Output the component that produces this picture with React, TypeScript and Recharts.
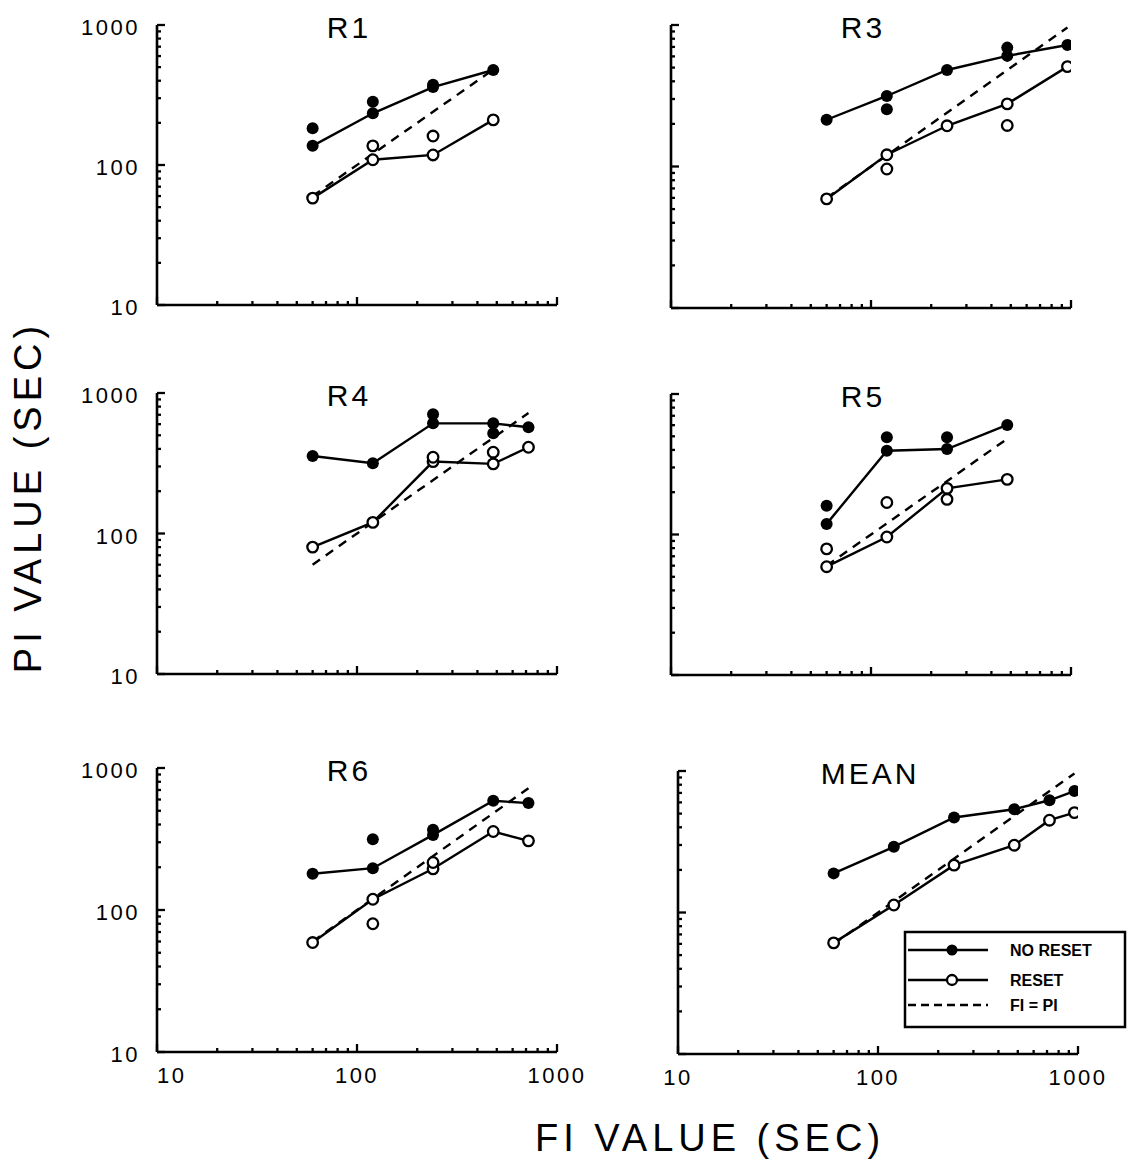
import React from 'react';
import { ScatterChart, Scatter, XAxis, YAxis } from 'recharts';

const FONT = '"Liberation Sans", Arial, sans-serif';

// log axis ticks
const logTicks = [10, 20, 30, 40, 50, 60, 70, 80, 90, 100, 200, 300, 400, 500, 600, 700, 800, 900, 1000];
const majorTicks = [10, 100, 1000];

// ---- R1 ----
const r1Fi = [60, 120, 240, 480];
const r1NoReset = [137, 234, 360, 477];
const r1NoResetExtraFi = [60, 120, 240];
const r1NoResetExtra = [183, 283, 375];
const r1Reset = [58, 109, 118, 210];
const r1ResetExtraFi = [120, 240];
const r1ResetExtra = [137, 161];
const r1Diag = [60, 480];

// ---- R3 ----
const r3Fi = [60, 120, 240, 480, 960];
const r3NoReset = [214, 315, 481, 605, 722];
const r3NoResetExtraFi = [120, 480];
const r3NoResetExtra = [254, 692];
const r3Reset = [59, 121, 194, 277, 508];
const r3ResetExtraFi = [120, 480];
const r3ResetExtra = [96, 195];
const r3Diag = [60, 960];

// ---- R4 ----
const r4Fi = [60, 120, 240, 480, 720];
const r4NoReset = [356, 316, 608, 608, 570];
const r4NoResetExtraFi = [240, 480];
const r4NoResetExtra = [705, 517];
const r4Reset = [80, 120, 325, 313, 411];
const r4ResetExtraFi = [240, 480];
const r4ResetExtra = [349, 379];
const r4Diag = [60, 720];

// ---- R5 ----
const r5Fi = [60, 120, 240, 480];
const r5NoReset = [119, 395, 406, 602];
const r5NoResetExtraFi = [60, 120, 240];
const r5NoResetExtra = [160, 492, 492];
const r5Reset = [59, 96, 213, 247];
const r5ResetExtraFi = [60, 120, 240];
const r5ResetExtra = [79, 169, 178];
const r5Diag = [60, 480];

// ---- R6 ----
const r6Fi = [60, 120, 240, 480, 720];
const r6NoReset = [180, 197, 338, 588, 566];
const r6NoResetExtraFi = [120, 240];
const r6NoResetExtra = [315, 367];
const r6Reset = [59, 119, 195, 357, 307];
const r6ResetExtraFi = [120, 240];
const r6ResetExtra = [80, 216];
const r6Diag = [60, 720];

// ---- MEAN ----
const meanFi = [60, 120, 240, 480, 720, 960];
const meanNoReset = [189, 291, 469, 537, 621, 722];
const meanReset = [61, 113, 216, 299, 449, 508];
const meanDiag = [60, 960];

const legendLabels = ['NO RESET', 'RESET', 'FI = PI'];
const xAxisTitle = 'FI VALUE (SEC)';
const yAxisTitle = 'PI VALUE (SEC)';

const pts = (xs: number[], ys: number[]) => xs.map((x, i) => ({ x, y: ys[i] }));

const FilledDot = (p: any) => <circle cx={p.cx} cy={p.cy} r={6} fill="#000" />;
const OpenDot = (p: any) => (
  <circle cx={p.cx} cy={p.cy} r={5.3} fill="#fff" stroke="#000" strokeWidth={2.3} />
);
const NoDot = () => <g />;

const renderYTick = (p: any, showLabel: boolean) => {
  const { x, y, payload } = p;
  const v = payload.value;
  const major = majorTicks.includes(v);
  return (
    <g>
      <line x1={x} x2={x + (major ? 8 : 4)} y1={y} y2={y} stroke="#000" strokeWidth={2.3} />
      {showLabel && major && (
        <text x={x - 17} y={y + 10} textAnchor="end" fontFamily={FONT} fontSize={22} letterSpacing={2.5} fill="#000">
          {v}
        </text>
      )}
    </g>
  );
};

const renderXTick = (p: any, showLabel: boolean, leftCol: boolean) => {
  const { x, y, payload } = p;
  const v = payload.value;
  const major = majorTicks.includes(v);
  const anchor = leftCol && v === 10 ? 'start' : 'middle';
  return (
    <g>
      <line x1={x} x2={x} y1={y} y2={y - (major ? 8 : 4)} stroke="#000" strokeWidth={2.3} />
      {showLabel && major && (
        <text x={x} y={y + 31} textAnchor={anchor} fontFamily={FONT} fontSize={22} letterSpacing={2.5} fill="#000">
          {v}
        </text>
      )}
    </g>
  );
};

type PanelProps = {
  left: number;
  top: number;
  height: number;
  fi: number[];
  noReset: number[];
  noResetExtraFi: number[];
  noResetExtra: number[];
  reset: number[];
  resetExtraFi: number[];
  resetExtra: number[];
  diag: number[];
  showYLabels: boolean;
  showXLabels: boolean;
  leftCol: boolean;
};

const ML = 110;
const MT = 30;
const MR = 70;
const XH = 45;
const PW = 400;

function Panel(props: PanelProps) {
  const { left, top, height } = props;
  const chartW = ML + PW + MR;
  const chartH = MT + height + XH;
  const lineStyle = { stroke: '#000', strokeWidth: 2.4 };
  return (
    <div style={{ position: 'absolute', left: left - ML, top: top - MT, width: chartW, height: chartH }}>
      <ScatterChart
        width={chartW}
        height={chartH}
        margin={{ top: MT, right: MR, bottom: 0, left: 0 }}
        style={{ overflow: 'visible' }}
      >
        <XAxis
          dataKey="x"
          type="number"
          scale="log"
          domain={[10, 1000]}
          ticks={logTicks}
          interval={0}
          allowDataOverflow
          tickSize={0}
          tickMargin={0}
          height={XH}
          axisLine={{ stroke: '#000', strokeWidth: 2.6 }}
          tickLine={false}
          tick={(p: any) => renderXTick(p, props.showXLabels, props.leftCol)}
        />
        <YAxis
          dataKey="y"
          type="number"
          scale="log"
          domain={[10, 1000]}
          ticks={logTicks}
          interval={0}
          allowDataOverflow
          tickSize={0}
          tickMargin={0}
          width={ML}
          axisLine={{ stroke: '#000', strokeWidth: 2.6 }}
          tickLine={false}
          tick={(p: any) => renderYTick(p, props.showYLabels)}
        />
        <Scatter
          data={pts(props.diag, props.diag)}
          line={{ stroke: '#000', strokeWidth: 2.4, strokeDasharray: '9 7' }}
          shape={NoDot}
          isAnimationActive={false}
        />
        <Scatter data={pts(props.fi, props.noReset)} line={lineStyle} shape={FilledDot} isAnimationActive={false} />
        <Scatter data={pts(props.noResetExtraFi, props.noResetExtra)} shape={FilledDot} isAnimationActive={false} />
        <Scatter data={pts(props.fi, props.reset)} line={lineStyle} shape={OpenDot} isAnimationActive={false} />
        <Scatter data={pts(props.resetExtraFi, props.resetExtra)} shape={OpenDot} isAnimationActive={false} />
      </ScatterChart>
    </div>
  );
}

const panels = [
  { title: 'R1', left: 157, top: 25, height: 280, fi: r1Fi, noReset: r1NoReset, noResetExtraFi: r1NoResetExtraFi, noResetExtra: r1NoResetExtra, reset: r1Reset, resetExtraFi: r1ResetExtraFi, resetExtra: r1ResetExtra, diag: r1Diag, showYLabels: true, showXLabels: false, leftCol: true },
  { title: 'R3', left: 671, top: 25, height: 283, fi: r3Fi, noReset: r3NoReset, noResetExtraFi: r3NoResetExtraFi, noResetExtra: r3NoResetExtra, reset: r3Reset, resetExtraFi: r3ResetExtraFi, resetExtra: r3ResetExtra, diag: r3Diag, showYLabels: false, showXLabels: false, leftCol: false },
  { title: 'R4', left: 157, top: 393, height: 281, fi: r4Fi, noReset: r4NoReset, noResetExtraFi: r4NoResetExtraFi, noResetExtra: r4NoResetExtra, reset: r4Reset, resetExtraFi: r4ResetExtraFi, resetExtra: r4ResetExtra, diag: r4Diag, showYLabels: true, showXLabels: false, leftCol: true },
  { title: 'R5', left: 671, top: 394, height: 281, fi: r5Fi, noReset: r5NoReset, noResetExtraFi: r5NoResetExtraFi, noResetExtra: r5NoResetExtra, reset: r5Reset, resetExtraFi: r5ResetExtraFi, resetExtra: r5ResetExtra, diag: r5Diag, showYLabels: false, showXLabels: false, leftCol: false },
  { title: 'R6', left: 157, top: 768, height: 284, fi: r6Fi, noReset: r6NoReset, noResetExtraFi: r6NoResetExtraFi, noResetExtra: r6NoResetExtra, reset: r6Reset, resetExtraFi: r6ResetExtraFi, resetExtra: r6ResetExtra, diag: r6Diag, showYLabels: true, showXLabels: true, leftCol: true },
  { title: 'MEAN', left: 678, top: 771, height: 283, fi: meanFi, noReset: meanNoReset, noResetExtraFi: [] as number[], noResetExtra: [] as number[], reset: meanReset, resetExtraFi: [] as number[], resetExtra: [] as number[], diag: meanDiag, showYLabels: false, showXLabels: true, leftCol: false },
];

export default function App() {
  return (
    <div style={{ position: 'absolute', left: 0, top: 0, width: 1133, height: 1169, background: '#fff', overflow: 'hidden' }}>
      {panels.map((p) => (
        <Panel key={p.title} {...p} />
      ))}
      <svg width={1133} height={1169} style={{ position: 'absolute', left: 0, top: 0, pointerEvents: 'none' }}>
        {panels.map((p) => (
          <text
            key={p.title}
            x={p.left + 192}
            y={p.top + 13}
            textAnchor="middle"
            fontFamily={FONT}
            fontSize={30}
            letterSpacing={3}
            fill="#000"
          >
            {p.title}
          </text>
        ))}
        <text
          x={710}
          y={1151}
          textAnchor="middle"
          fontFamily={FONT}
          fontSize={38}
          letterSpacing={5}
          fill="#000"
        >
          {xAxisTitle}
        </text>
        <text
          transform="translate(41,497) rotate(-90)"
          x={0}
          y={0}
          textAnchor="middle"
          fontFamily={FONT}
          fontSize={38}
          letterSpacing={5}
          fill="#000"
        >
          {yAxisTitle}
        </text>
        {/* legend */}
        <g transform="translate(900,928)">
          <rect x={5} y={4} width={220} height={95} fill="#fff" stroke="#000" strokeWidth={2.5} />
          <line x1={8} x2={88} y1={22} y2={22} stroke="#000" strokeWidth={2.4} />
          <circle cx={52} cy={22} r={5.5} fill="#000" />
          <line x1={8} x2={88} y1={52} y2={52} stroke="#000" strokeWidth={2.4} />
          <circle cx={52} cy={52} r={5} fill="#fff" stroke="#000" strokeWidth={2.3} />
          <line x1={8} x2={88} y1={77} y2={77} stroke="#000" strokeWidth={2.4} strokeDasharray="8 5" />
          {legendLabels.map((l, i) => (
            <text key={l} x={110} y={[28, 58, 83][i]} fontFamily={FONT} fontSize={16} fontWeight="bold" fill="#000">
              {l}
            </text>
          ))}
        </g>
      </svg>
    </div>
  );
}
